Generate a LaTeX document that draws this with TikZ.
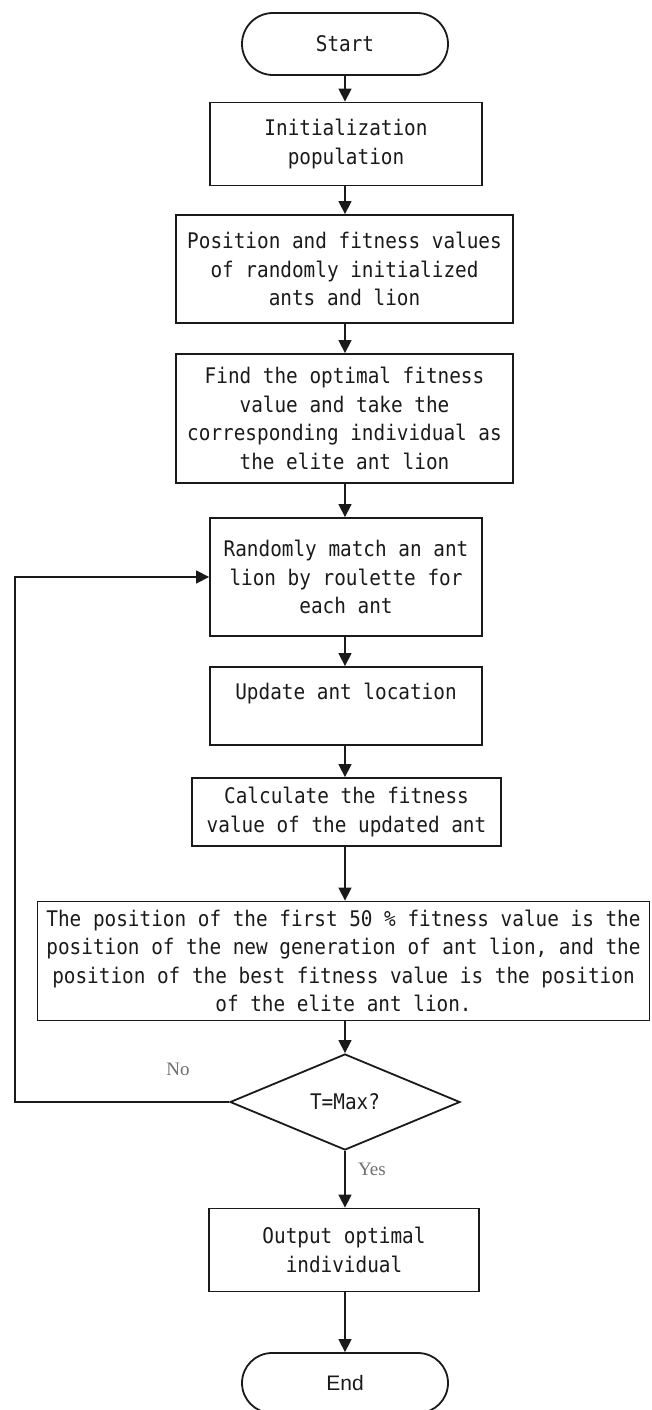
\documentclass[tikz,border=0pt]{standalone}
\usepackage{fontspec}
\usetikzlibrary{shapes.geometric,shapes.misc,arrows.meta}
\newfontfamily\boxfont[FakeStretch=0.9]{DejaVu Sans Mono}
\newfontfamily\endfont{Liberation Sans}
\newfontfamily\labfont{Liberation Serif}
\definecolor{ink}{HTML}{1A1A1A}
\definecolor{labgray}{HTML}{6E6E6E}
\tikzset{
  base/.style={draw=ink, line width=1.8pt, inner sep=0pt, align=center,
    font=\boxfont\fontsize{21.5}{28.5}\selectfont, text=ink},
  procbox/.style={base, rectangle},
  term/.style={base, rounded rectangle, rounded rectangle arc length=180},
  decide/.style={base, diamond},
  conn/.style={draw=ink, line width=1.4pt, -{Triangle[length=13pt,width=13pt]}},
  lab/.style={font=\labfont\fontsize{19}{22}\selectfont, text=labgray}
}
\begin{document}
\begin{tikzpicture}[x=1pt,y=-1pt]
\useasboundingbox (0,0) rectangle (652,1410);
\node[term, minimum width=206pt, minimum height=62pt] (start) at (345,44) {Start};
\node[procbox, minimum width=272pt, minimum height=83pt] (b1) at (346,144) {Initialization\\population};
\node[procbox, minimum width=337pt, minimum height=108pt] (b2) at (344.5,269) {Position and fitness values\\of randomly initialized\\ants and lion};
\node[procbox, minimum width=337pt, minimum height=129pt] (b3) at (344.5,418.5) {Find the optimal fitness\\value and take the\\corresponding individual as\\the elite ant lion};
\node[procbox, minimum width=272pt, minimum height=118pt] (b4) at (346,577) {Randomly match an ant\\lion by roulette for\\each ant};
\node[procbox, minimum width=272pt, minimum height=78pt] (b5) at (346,706) {Update ant location\\\mbox{}};
\node[procbox, minimum width=309pt, minimum height=68pt] (b6) at (346.5,812) {Calculate the fitness\\value of the updated ant};
\node[procbox, minimum width=612pt, minimum height=119pt] (b7) at (343.5,961) {The position of the first 50 \% fitness value is the\\position of the new generation of ant lion, and the\\position of the best fitness value is the position\\of the elite ant lion.};
\node[decide, minimum width=230pt, minimum height=96pt] (dec) at (345,1102) {T=Max?};
\node[procbox, minimum width=270pt, minimum height=83pt] (b8) at (344,1250) {Output optimal\\individual};
\node[term, minimum width=206pt, minimum height=60pt, font=\endfont\fontsize{21}{24}\selectfont] (stop) at (345,1383) {End};
\coordinate (loopc) at (15,1102);
\draw[conn] (start.south) -- (start.south |- b1.north);
\draw[conn] (start.south |- b1.south) -- (start.south |- b2.north);
\draw[conn] (start.south |- b2.south) -- (start.south |- b3.north);
\draw[conn] (start.south |- b3.south) -- (start.south |- b4.north);
\draw[conn] (start.south |- b4.south) -- (start.south |- b5.north);
\draw[conn] (start.south |- b5.south) -- (start.south |- b6.north);
\draw[conn] (start.south |- b6.south) -- (start.south |- b7.north);
\draw[conn] (start.south |- b7.south) -- (dec.north);
\draw[conn] (dec.south) -- (dec.south |- b8.north);
\draw[conn] (dec.south |- b8.south) -- (stop.north);
\draw[conn] (dec.west) -- (loopc) |- (b4.west);
\node[lab] (nolab) at (178,1069) {No};
\node[lab] (yeslab) at (372,1169) {Yes};
\end{tikzpicture}
\end{document}
